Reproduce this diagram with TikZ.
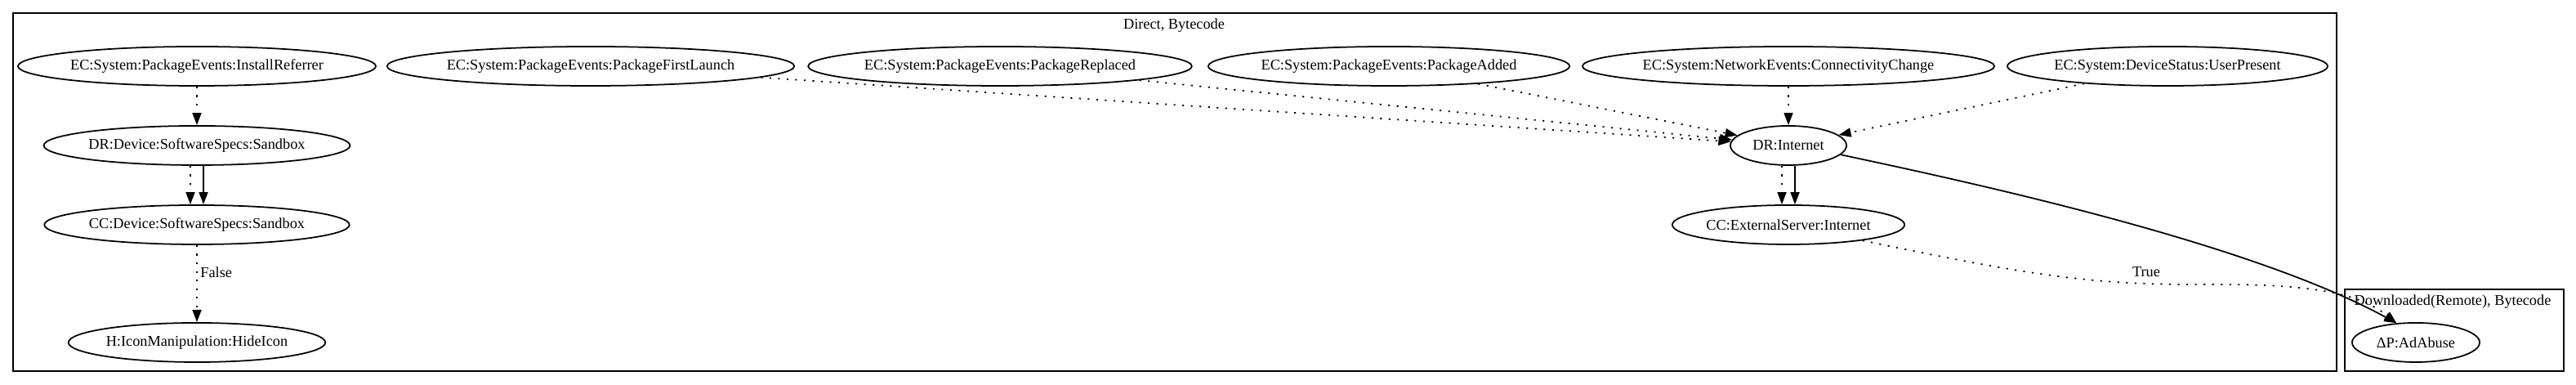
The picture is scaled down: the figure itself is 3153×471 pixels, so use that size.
\documentclass[tikz,border=0pt]{standalone}
\usepackage{fontspec}
\setmainfont{Liberation Serif}
\usetikzlibrary{arrows.meta,shapes.geometric}
\tikzset{
  state/.style={draw, ellipse, line width=0.5pt, inner sep=0pt, minimum height=0.48cm, font=\fontsize{5.2}{6}\selectfont},
  lbl/.style={font=\fontsize{5.2}{6}\selectfont, inner sep=1pt},
  dep/.style={-{Triangle[length=0.15cm,width=0.11cm]}, line width=0.5pt, dash pattern=on 0.6pt off 2.4pt},
  flow/.style={-{Triangle[length=0.15cm,width=0.11cm]}, line width=0.5pt},
  cluster/.style={draw, line width=0.5pt}
}
\begin{document}
\begin{tikzpicture}[x=0.01cm, y=0.01cm]
\useasboundingbox (0,0) rectangle (3153,471);
% Clusters
\draw [cluster] (16,17) rectangle (2860,455);
\node [lbl] (direct) at (1437,440) {Direct, Bytecode};
\draw [cluster] (2870,17) rectangle (3138,117);
\node [lbl] (remote) at (3002,102) {Downloaded(Remote), Bytecode};
% Events
\node [state] (irf) at (241,390) {EC:System:PackageEvents:InstallReferrer};
\node [state] (pfl) at (723,390) {EC:System:PackageEvents:PackageFirstLaunch};
\node [state] (prp) at (1224,390) {EC:System:PackageEvents:PackageReplaced};
\node [state] (pad) at (1700,390) {EC:System:PackageEvents:PackageAdded};
\node [state] (con) at (2189,390) {EC:System:NetworkEvents:ConnectivityChange};
\node [state] (usp) at (2653,390) {EC:System:DeviceStatus:UserPresent};
% Sandbox column
\node [state] (drsb) at (241,293) {DR:Device:SoftwareSpecs:Sandbox};
\node [state] (ccsb) at (241,196) {CC:Device:SoftwareSpecs:Sandbox};
\node [state] (hide) at (241,52) {H:IconManipulation:HideIcon};
% Internet column
\node [state, minimum width=1.42cm] (drnet) at (2189,293) {DR:Internet};
\node [state] (ccnet) at (2189,196) {CC:ExternalServer:Internet};
% Remote payload
\node [state, minimum width=1.56cm] (ada) at (2957,52) {ΔP:AdAbuse};
% Edges
\draw [dep] (irf) -- (drsb);
\draw [dep] ([xshift=-0.08cm]drsb.south) -- ([xshift=-0.08cm]ccsb.north);
\draw [flow] ([xshift=0.08cm]drsb.south) -- ([xshift=0.08cm]ccsb.north);
\draw [dep] (ccsb) -- node [lbl, anchor=west, pos=0.35] (false) {False} (hide);
\draw [dep] (pfl) -- (drnet);
\draw [dep] (prp) -- (drnet);
\draw [dep] (pad) -- (drnet);
\draw [dep] (con) -- (drnet);
\draw [dep] (usp) -- (drnet);
\draw [dep] ([xshift=-0.08cm]drnet.south) -- ([xshift=-0.08cm]ccnet.north);
\draw [flow] ([xshift=0.08cm]drnet.south) -- ([xshift=0.08cm]ccnet.north);
\draw [flow] (drnet.-10) .. controls (2450,240) and (2760,170) .. (ada.135);
\draw [dep] (ccnet.-12) .. controls (2480,135) and (2560,122) .. (2700,123)
  .. controls (2840,124) and (2890,110) .. (ada.135);
\node [lbl] (true) at (2627,138) {True};
\end{tikzpicture}
\end{document}
